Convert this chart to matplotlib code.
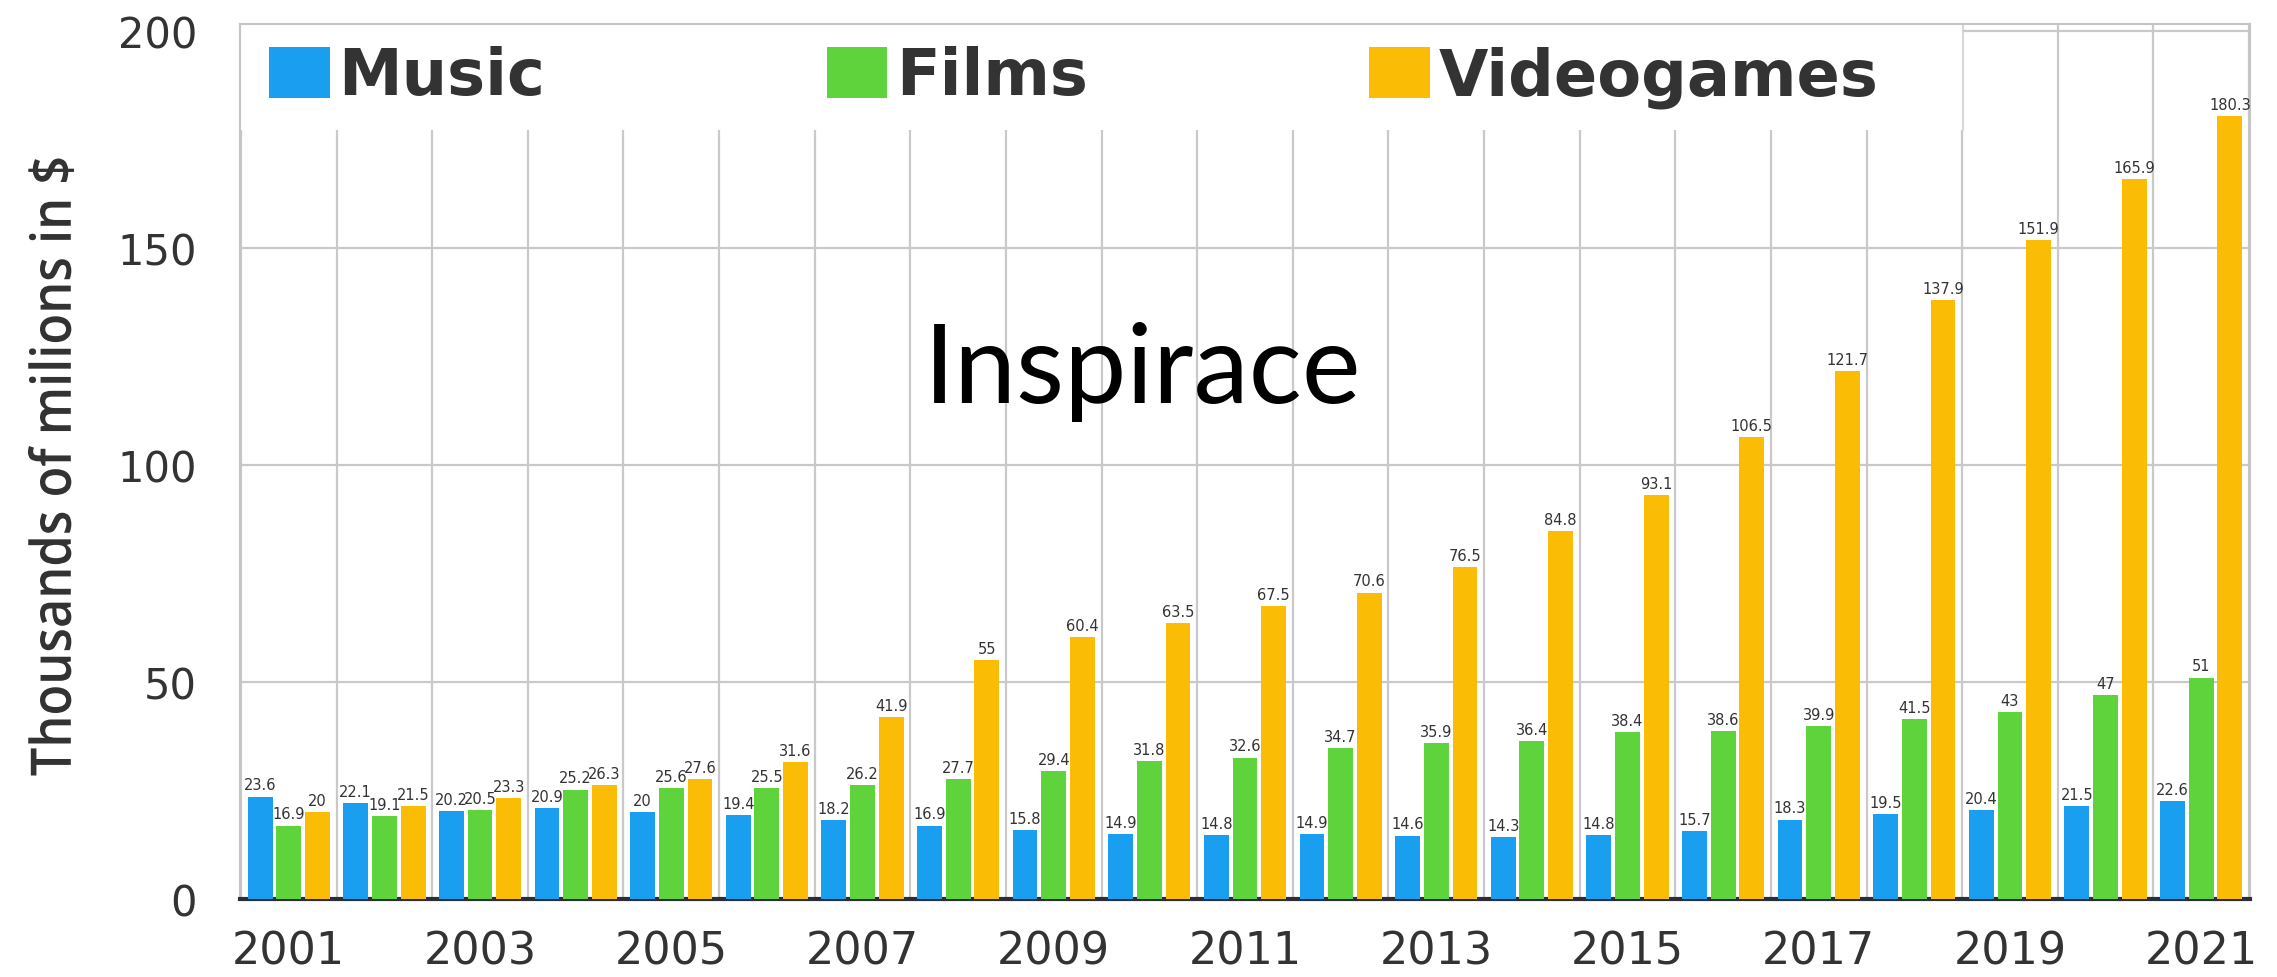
import numpy as np
import matplotlib
matplotlib.use("Agg")
import matplotlib.pyplot as plt
from matplotlib.patches import Rectangle, PathPatch
from matplotlib.textpath import TextPath
from matplotlib.font_manager import FontProperties
from matplotlib.transforms import Affine2D, IdentityTransform

years = [str(y) for y in range(2001, 2022)]
music = [23.6, 22.1, 20.2, 20.9, 20, 19.4, 18.2, 16.9, 15.8, 14.9, 14.8,
         14.9, 14.6, 14.3, 14.8, 15.7, 18.3, 19.5, 20.4, 21.5, 22.6]
films = [16.9, 19.1, 20.5, 25.2, 25.6, 25.5, 26.2, 27.7, 29.4, 31.8, 32.6,
         34.7, 35.9, 36.4, 38.4, 38.6, 39.9, 41.5, 43, 47, 51]
videogames = [20, 21.5, 23.3, 26.3, 27.6, 31.6, 41.9, 55, 60.4, 63.5, 67.5,
              70.6, 76.5, 84.8, 93.1, 106.5, 121.7, 137.9, 151.9, 165.9, 180.3]
series_names = ["Music", "Films", "Videogames"]
colors = ["#1a9ff0", "#5fd33b", "#fbbc05"]
yticks = [0, 50, 100, 150, 200]

W, H = 2277, 978
fig = plt.figure(figsize=(W / 100, H / 100), dpi=100)
ax = fig.add_axes([240 / W, 78 / H, 2010 / W, 875 / H])

x = np.arange(len(years))
width = 0.26
offsets = [-0.3, 0.0, 0.3]
handles = []
for vals, off, col, name in zip([music, films, videogames], offsets, colors, series_names):
    bars = ax.bar(x + off, vals, width, color=col, label=name, zorder=3)
    ax.bar_label(bars, labels=["%g" % v for v in vals], padding=3,
                 fontsize=10.5, color="#333333", zorder=4)
    handles.append(bars)

ax.set_xlim(-0.51, len(years) - 0.49)
ax.set_ylim(0, 201.6)

ax.set_yticks(yticks)
ax.set_yticklabels([str(t) for t in yticks], fontsize=30, color="#333333")
ax.set_xticks(x[::2])
ax.set_xticklabels(years[::2], fontsize=32, color="#333333")
ax.set_xticks(np.arange(-0.5, len(years), 1), minor=True)
ax.tick_params(axis="y", length=0, pad=31)
ax.tick_params(axis="x", which="both", length=0, pad=22)

ax.set_axisbelow(True)
ax.grid(axis="y", which="major", color="#c9c9c9", lw=1.6, zorder=0)
ax.grid(axis="x", which="minor", color="#c9c9c9", lw=1.6, zorder=0)

for side in ["left", "top", "right"]:
    ax.spines[side].set_color("#c4c4c4")
    ax.spines[side].set_linewidth(1.5)
ax.spines["bottom"].set_color("#2b2d3a")
ax.spines["bottom"].set_linewidth(3)

# white band behind the legend, with a thin edge on its right side
ax.add_patch(Rectangle((0, 0.879), 0.857, 0.121, transform=ax.transAxes,
                       facecolor="white", edgecolor="none", zorder=1))
ax.plot([0.857, 0.857], [0.879, 1.0], transform=ax.transAxes, color="#cfcfcf",
        lw=1.2, zorder=1)

ax.legend(handles=handles, loc="center left", bbox_to_anchor=(0.0144, 0.940),
          ncol=3, frameon=False, borderpad=0, borderaxespad=0,
          handlelength=0.95, handleheight=0.85, handletextpad=0.14,
          columnspacing=4.4, prop={"family": "DejaVu Sans", "weight": "bold", "size": 46},
          labelcolor="#333333")

# condensed y label: text outline squeezed horizontally, then turned upright
ylab = TextPath((0, 0), "Thousands of milions in $", size=56,
                prop=FontProperties(family="Open Sans", weight="semibold"))
ext = ylab.get_extents()
sx = 617 / ext.width
tr = Affine2D().translate(-(ext.x0 + ext.x1) / 2, -(ext.y0 + ext.y1) / 2)
tr = tr.scale(sx, 1.0).rotate_deg(90).translate(51, H - 468)
fig.patches.append(PathPatch(tr.transform_path(ylab), transform=IdentityTransform(),
                             facecolor="#333333", edgecolor="none"))

fig.text(1143 / W, 1 - 372 / H, "Inspirace", ha="center", va="center",
         fontsize=80, color="black", family="Lato")

fig.savefig("out.png", dpi=100, facecolor="white")
